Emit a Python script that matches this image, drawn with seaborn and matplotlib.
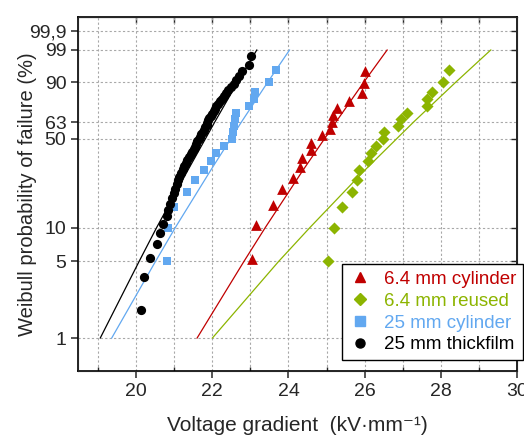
import numpy as np
import pandas as pd
import seaborn as sns
import matplotlib.pyplot as plt
from matplotlib.lines import Line2D
from matplotlib.ticker import NullLocator

# breakdown gradients (kV/mm) and Weibull plotting positions (%)
cyl64_kv = [23.05, 23.14, 23.60, 23.83, 24.12, 24.31, 24.35, 24.60, 24.60,
            24.89, 25.08, 25.15, 25.18, 25.27, 25.60, 25.92, 25.97, 26.00]
cyl64_p = [5.3, 10.5, 15.8, 21.1, 26.3, 31.6, 36.8, 42.1, 47.4,
           52.6, 57.9, 63.2, 68.4, 73.7, 78.9, 84.2, 89.5, 94.7]

reused64_kv = [25.03, 25.19, 25.40, 25.67, 25.80, 25.85, 26.08, 26.17, 26.30, 26.49,
               26.50, 26.87, 26.96, 27.11, 27.63, 27.63, 27.77, 28.06, 28.22]
reused64_p = [5, 10, 15, 20, 25, 30, 35, 40, 45, 50,
              55, 60, 65, 70, 75, 80, 85, 90, 95]

cyl25_kv = [20.80, 20.85, 20.99, 21.34, 21.56, 21.78, 21.98, 22.09, 22.31, 22.51,
            22.55, 22.57, 22.59, 22.61, 22.97, 23.09, 23.12, 23.49, 23.66]
cyl25_p = [5, 10, 15, 20, 25, 30, 35, 40, 45, 50,
           55, 60, 65, 70, 75, 80, 85, 90, 95]

thick25_kv = [20.13, 20.22, 20.37, 20.55, 20.63, 20.72, 20.80, 20.85, 20.90, 20.95,
              20.99, 21.03, 21.07, 21.10, 21.14, 21.19, 21.23, 21.27, 21.31, 21.35,
              21.40, 21.44, 21.48, 21.52, 21.55, 21.58, 21.61, 21.64, 21.67, 21.71,
              21.75, 21.79, 21.82, 21.85, 21.87, 21.89, 21.92, 21.96, 22.00, 22.04,
              22.08, 22.11, 22.16, 22.21, 22.26, 22.31, 22.36, 22.42, 22.49, 22.56,
              22.62, 22.69, 22.77, 22.97, 23.02]
thick25_p = [1.8, 3.6, 5.4, 7.1, 8.9, 10.7, 12.5, 14.3, 16.1, 17.9,
             19.6, 21.4, 23.2, 25.0, 26.8, 28.6, 30.4, 32.1, 33.9, 35.7,
             37.5, 39.3, 41.1, 42.9, 44.6, 46.4, 48.2, 50.0, 51.8, 53.6,
             55.4, 57.1, 58.9, 60.7, 62.5, 64.3, 66.1, 67.9, 69.6, 71.4,
             73.2, 75.0, 76.8, 78.6, 80.4, 82.1, 83.9, 85.7, 87.5, 89.3,
             91.1, 92.9, 94.6, 96.4, 98.2]

# Weibull fit lines
fit_p = [1, 5, 10, 30, 63.2, 90, 99]
cyl64_fit_kv = [21.60, 22.83, 23.39, 24.38, 25.25, 25.97, 26.59]
reused64_fit_kv = [22.00, 23.74, 24.56, 26.00, 27.29, 28.38, 29.31]
cyl25_fit_kv = [19.36, 20.51, 21.03, 21.96, 22.77, 23.45, 24.03]
thick25_fit_kv = [19.06, 20.08, 20.54, 21.36, 22.07, 22.66, 23.17]

labels = ['6.4 mm cylinder', '6.4 mm reused', '25 mm cylinder', '25 mm thickfilm']
colors = ['#C00000', '#8CB400', '#62A8F0', '#000000']
markers = ['^', 'D', 's', 'o']
sizes = [60, 38, 34, 44]

yticks = [1, 5, 10, 50, 63, 90, 99, 99.9]
yticklabels = ['1', '5', '10', '50', '63', '90', '99', '99,9']


def weibull_fwd(p):
    p = np.clip(np.asarray(p, dtype=float), 1e-6, 100 - 1e-6)
    return np.log(-np.log(1 - p / 100.0))


def weibull_inv(w):
    return 100.0 * (1 - np.exp(-np.exp(np.asarray(w, dtype=float))))


def build_frames():
    pts = []
    fits = []
    series = [(cyl64_kv, cyl64_p, cyl64_fit_kv),
              (reused64_kv, reused64_p, reused64_fit_kv),
              (cyl25_kv, cyl25_p, cyl25_fit_kv),
              (thick25_kv, thick25_p, thick25_fit_kv)]
    for lab, (kv, p, fkv) in zip(labels, series):
        pts.append(pd.DataFrame({'Sample': lab, 'Gradient': kv, 'P': p}))
        fits.append(pd.DataFrame({'Sample': lab, 'Gradient': fkv, 'P': fit_p}))
    return pd.concat(pts), pd.concat(fits)


def plot_weibull(df_pts, df_fit, output_path):
    sns.set_style('ticks')
    plt.rcParams['font.family'] = ['Liberation Sans', 'DejaVu Sans']

    fig, ax = plt.subplots(figsize=(5.24, 4.40), dpi=100)
    fig.subplots_adjust(left=0.149, right=0.987, bottom=0.157, top=0.962)

    ax.set_yscale('function', functions=(weibull_fwd, weibull_inv))
    ax.set_xlim(18.48, 30)
    ax.set_ylim(0.5, 99.991)

    palette = dict(zip(labels, colors))
    sns.lineplot(data=df_fit, x='Gradient', y='P', hue='Sample', palette=palette,
                 estimator=None, sort=False, linewidth=0.9, legend=False, ax=ax)

    for lab, m, s in zip(labels, markers, sizes):
        sub = df_pts[df_pts['Sample'] == lab]
        sns.scatterplot(data=sub, x='Gradient', y='P', color=palette[lab], marker=m,
                        s=s, linewidth=0, legend=False, ax=ax, zorder=3)

    ax.set_xticks(np.arange(20, 31, 2))
    ax.set_xticks(np.arange(19, 30, 2), minor=True)
    ax.set_yticks(yticks)
    ax.set_yticklabels(yticklabels)
    ax.yaxis.set_minor_locator(NullLocator())
    ax.grid(True, which='both', axis='x', color='#A8A8A8', linestyle=(0, (2, 2)), linewidth=0.8)
    ax.grid(True, which='major', axis='y', color='#A8A8A8', linestyle=(0, (2, 2)), linewidth=0.8)
    ax.tick_params(axis='both', which='major', labelsize=14, direction='out', length=5, width=1.1)
    ax.tick_params(axis='x', which='minor', direction='in', length=3, width=1)
    for sp in ax.spines.values():
        sp.set_linewidth(1.2)
        sp.set_color('black')

    top = ax.secondary_xaxis('top')
    top.set_xticks(np.arange(20, 30, 1))
    top.set_xticklabels([])
    top.tick_params(direction='in', length=4, width=1)

    right = ax.twinx()
    right.set_yscale('function', functions=(weibull_fwd, weibull_inv))
    right.set_ylim(ax.get_ylim())
    right.set_yticks([1, 5, 10, 50, 90, 99, 99.9])
    right.set_yticklabels([])
    right.yaxis.set_minor_locator(NullLocator())
    right.tick_params(direction='in', length=4, width=1)
    right.grid(False)

    ax.set_xlabel('Voltage gradient  (kV·mm⁻¹)', fontsize=15, labelpad=12)
    ax.set_ylabel('Weibull probability of failure (%)', fontsize=14.5, labelpad=-6)

    handles = [Line2D([], [], linestyle='none', marker=m, color=c, markersize=6.5)
               for m, c in zip(markers, colors)]
    leg = right.legend(handles, labels, loc='lower right', bbox_to_anchor=(0.998, 0.182),
                       bbox_transform=fig.transFigure, fontsize=13.5, frameon=True,
                       fancybox=False, framealpha=1, edgecolor='black', borderpad=0.35,
                       labelspacing=0.25, handlelength=1.2, handletextpad=0.7,
                       borderaxespad=0)
    leg.get_frame().set_linewidth(1.0)
    for txt, c in zip(leg.get_texts(), colors):
        txt.set_color(c)

    fig.savefig(output_path, dpi=100)


if __name__ == '__main__':
    df_pts, df_fit = build_frames()
    plot_weibull(df_pts, df_fit, 'out.png')
